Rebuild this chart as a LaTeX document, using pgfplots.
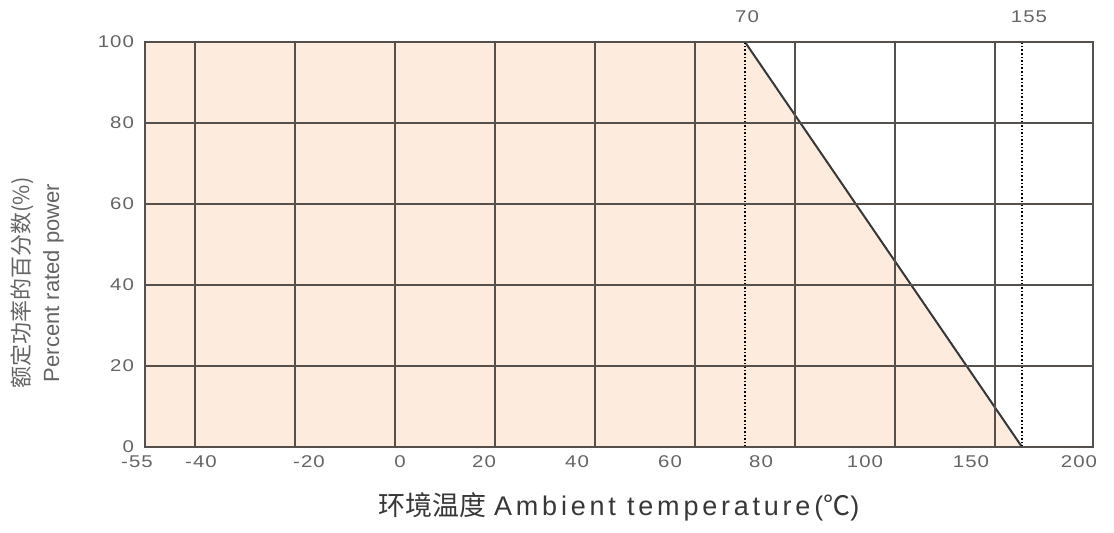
\documentclass[border=0pt]{standalone}
\usepackage{fontspec}
\usepackage{pgfplots}
\pgfplotsset{compat=1.18}
\setmainfont{Liberation Sans}
\newfontfamily\cjk{Noto Sans CJK SC}
\newfontfamily\tickfont{Liberation Sans}[FakeStretch=1.2,LetterSpace=6]
\newfontfamily\labfont{Liberation Sans}[LetterSpace=14]
\definecolor{peach}{RGB}{253,236,222}
\definecolor{gridc}{RGB}{85,80,76}
\definecolor{txt}{RGB}{100,100,100}
\definecolor{dark}{RGB}{55,55,55}

\begin{document}
\begin{tikzpicture}
% x runs in picture units (0 = left frame, 948 = right frame); the source scale is not linear
\begin{axis}[
    scale only axis,
    width=474pt, height=202.5pt,
    xmin=0, xmax=948, ymin=0, ymax=100,
    axis on top,
    axis line style={gridc, line width=0.9pt},
    xtick={56,164,255,339,432,525,616,720,826,934},
    xticklabels={-40,-20,0,20,40,60,80,100,150,200},
    extra x ticks={50,150,250,350,450,550,650,750,850},
    extra x tick labels={},
    extra x tick style={grid=major, major tick length=0pt},
    ytick={0,20,40,60,80,100},
    ymajorgrids,
    major grid style={gridc, line width=0.9pt},
    major tick length=0pt,
    /pgf/number format/assume math mode=true,
    tick label style={font=\tickfont\fontsize{8.5}{10}\selectfont, text=txt},
    xticklabel style={yshift=-1pt},
    yticklabel style={xshift=-2pt},
    clip=false,
]
\addplot[fill=peach, draw=none] coordinates {(0,0) (0,100) (600,100) (877,0) (0,0)};
\addplot[dark, line width=1pt] coordinates {(600,100) (877,0)};
\addplot[black, densely dotted, line width=0.8pt] coordinates {(600,0) (600,100)};
\addplot[black, densely dotted, line width=0.8pt] coordinates {(877,0) (877,100)};
\addplot[black, line width=0.9pt] coordinates {(0,80) (948,80)};
\node[font=\tickfont\fontsize{8.5}{10}\selectfont, text=txt, anchor=north, inner sep=0.333em] at ([yshift=-1pt]axis cs:-8,0) {-55};
\node[font=\tickfont\fontsize{8.5}{10}\selectfont, text=txt] at ([yshift=12.5pt]axis cs:602,100) {70};
\node[font=\tickfont\fontsize{8.5}{10}\selectfont, text=txt] at ([yshift=12.5pt]axis cs:884,100) {155};
\node[rotate=90, align=center, text=txt, font=\fontsize{11}{15}\selectfont]
    at ([xshift=-54pt]rel axis cs:0,0.405) {{\cjk 额定功率的百分数(\%)}\\Percent rated power};
\node[text=dark, font=\fontsize{13.5}{15}\selectfont]
    at ([yshift=-30pt]rel axis cs:0.5,0) {{\cjk 环境温度}\ {\labfont Ambient temperature(}{\cjk ℃}{\labfont )}};
\end{axis}
\path ([xshift=-72.5pt,yshift=-43pt]current axis.south west) rectangle ([xshift=10.5pt,yshift=21pt]current axis.north east);
\end{tikzpicture}
\end{document}
